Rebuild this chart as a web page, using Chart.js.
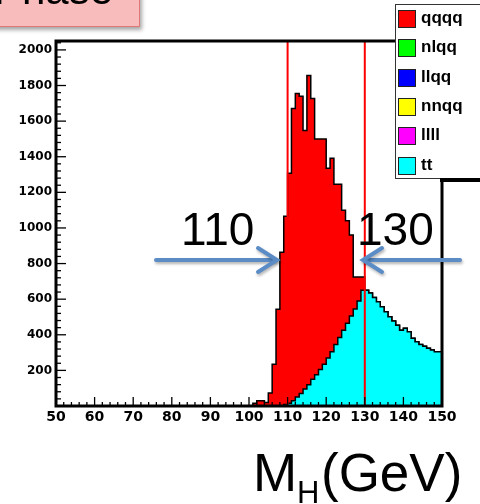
<!DOCTYPE html>
<html>
<head>
<meta charset="utf-8">
<script src="https://cdn.jsdelivr.net/npm/chart.js@4.4.1/dist/chart.umd.min.js"></script>
<style>
  html, body { margin: 0; padding: 0; background: #fff; }
  #wrap { position: relative; width: 480px; height: 504px; overflow: hidden; font-family: "Liberation Sans", Arial, sans-serif; }
  #plot { position: absolute; left: 0; top: 0; }
  .txt { position: absolute; line-height: 1; color: #000; white-space: nowrap; }
  #tag { position: absolute; left: -10px; top: -40px; width: 148px; height: 65px; background: #f9bcbc;
         border: 1.5px solid #e07878; box-shadow: 2px 3px 4px rgba(0,0,0,0.35); overflow: hidden; }
  #tag span { position: absolute; right: 26px; top: 8px; font-size: 42px; line-height: 1; }
  #legend { position: absolute; left: 395px; top: 4px; width: 100px; height: 173px; background: #fff; border: 1px solid #333; }
  .item { position: absolute; left: 2px; height: 18px; }
  .item i { position: absolute; left: 0; top: 0; width: 16px; height: 16px; border: 1px solid #222; }
  .item b { position: absolute; left: 23px; top: -1px; font-size: 17px; line-height: 1; }
  #shadow { position: absolute; left: 440px; top: 178px; width: 40px; height: 4px; background: #000; }
</style>
</head>
<body>
<div id="wrap">
  <canvas id="plot" width="480" height="504"></canvas>
  <div id="tag"><span>Phase</span></div>
  <div id="legend"></div>
  <div id="shadow"></div>
  <div class="txt" style="left:181px;top:206px;font-size:46px;">110</div>
  <div class="txt" style="left:357px;top:206px;font-size:46px;">130</div>
  <div class="txt" style="left:253px;top:446px;font-size:53px;">M</div>
  <div class="txt" style="left:297px;top:477px;font-size:31px;">H</div>
  <div class="txt" style="left:321px;top:446px;font-size:53px;">(GeV)</div>
</div>
<script>
// lower edge of each 1 GeV bin
var BIN_LOW = [
  50, 51, 52, 53, 54, 55, 56, 57, 58, 59,
  60, 61, 62, 63, 64, 65, 66, 67, 68, 69,
  70, 71, 72, 73, 74, 75, 76, 77, 78, 79,
  80, 81, 82, 83, 84, 85, 86, 87, 88, 89,
  90, 91, 92, 93, 94, 95, 96, 97, 98, 99,
  100, 101, 102, 103, 104, 105, 106, 107, 108, 109,
  110, 111, 112, 113, 114, 115, 116, 117, 118, 119,
  120, 121, 122, 123, 124, 125, 126, 127, 128, 129,
  130, 131, 132, 133, 134, 135, 136, 137, 138, 139,
  140, 141, 142, 143, 144, 145, 146, 147, 148, 149
];
var X_END = 150;

var TT = [
  0, 0, 0, 0, 0, 0, 0, 0, 0, 0,
  0, 0, 0, 0, 0, 0, 0, 0, 0, 0,
  0, 0, 0, 0, 0, 0, 0, 0, 0, 0,
  0, 0, 0, 0, 0, 0, 0, 0, 0, 0,
  0, 0, 0, 0, 0, 0, 0, 0, 0, 0,
  0, 0, 0, 0, 0, 0, 0, 0, 0, 0,
  8, 15, 30, 50, 70, 95, 120, 150, 175, 205,
  235, 270, 305, 345, 385, 425, 465, 505, 545, 590,
  650, 650, 635, 610, 585, 557, 529, 501, 478, 454,
  426, 437, 417, 381, 361, 345, 336, 325, 314, 305
];

var QQQQ = [
  0, 0, 0, 0, 0, 0, 0, 0, 0, 0,
  0, 0, 0, 0, 0, 0, 0, 0, 0, 0,
  0, 0, 0, 0, 0, 0, 0, 0, 0, 0,
  0, 0, 0, 0, 0, 0, 0, 0, 0, 0,
  0, 0, 0, 0, 0, 0, 0, 0, 0, 0,
  0, 0, 15, 30, 30, 20, 73, 235, 544, 864,
  1058, 1292, 1641, 1705, 1669, 1453, 1736, 1577, 1325, 1295,
  1265, 1065, 1086, 900, 860, 675, 575, 455, 179, 134,
  74, 0, 0, 0, 0, 0, 0, 0, 0, 0,
  0, 0, 0, 0, 0, 0, 0, 0, 0, 0
];

var LEGEND_NAMES = ['qqqq', 'nlqq', 'llqq', 'nnqq', 'llll', 'tt'];
var LEGEND_COLORS = ['#ff0000', '#00ff00', '#0000ff', '#ffff00', '#ff00ff', '#00ffff'];

var X_TICKS = [50, 60, 70, 80, 90, 100, 110, 120, 130, 140, 150];
var Y_TICKS = [200, 400, 600, 800, 1000, 1200, 1400, 1600, 1800, 2000];
var Y_MAX = 2050;
var CUTS = [110, 130];

// legend box
var legendHtml = '';
for (var i = 0; i < LEGEND_NAMES.length; i++) {
    legendHtml += '<div class="item" style="top:' + (5 + i * 29.3) + 'px">';
    legendHtml += '<i style="background:' + LEGEND_COLORS[i] + '"></i><b>' + LEGEND_NAMES[i] + '</b></div>';
}
document.getElementById('legend').innerHTML = legendHtml;

function stepPoints(values) {
    var pts = [];
    for (var i = 0; i < BIN_LOW.length; i++) {
        pts.push({ x: BIN_LOW[i], y: values[i] });
    }
    pts.push({ x: X_END, y: values[values.length - 1] });
    return pts;
}

function line(ctx, x1, y1, x2, y2) {
    ctx.beginPath();
    ctx.moveTo(x1, y1);
    ctx.lineTo(x2, y2);
    ctx.stroke();
}

function arrow(ctx, tail, tip, yy) {
    var dir = tip > tail ? 1 : -1;
    line(ctx, tail, yy, tip - dir * 2, yy);
    ctx.beginPath();
    ctx.moveTo(tip - dir * 19, yy - 12);
    ctx.lineTo(tip, yy);
    ctx.lineTo(tip - dir * 19, yy + 12);
    ctx.stroke();
}

var framePlugin = {
    id: 'frame',
    afterDatasetsDraw: function (chart) {
        var ctx = chart.ctx;
        var a = chart.chartArea;
        var x = chart.scales.x;
        var y = chart.scales.y;
        ctx.save();

        // mass window
        ctx.strokeStyle = '#ff0000';
        ctx.lineWidth = 2;
        CUTS.forEach(function (c) {
            var px = x.getPixelForValue(c);
            line(ctx, px, a.top, px, a.bottom);
        });

        // ticks inside the frame
        ctx.strokeStyle = '#000';
        ctx.lineWidth = 1.3;
        for (var v = X_TICKS[0]; v <= X_END; v += 2) {
            var px = x.getPixelForValue(v);
            var len = (v % 10 === 0) ? 9 : 4;
            line(ctx, px, a.bottom, px, a.bottom - len);
        }
        for (var w = 0; w <= Y_MAX; w += 40) {
            var py = y.getPixelForValue(w);
            var len2 = (w % 200 === 0) ? 10 : 5;
            line(ctx, a.left, py, a.left + len2, py);
        }

        // frame
        ctx.lineWidth = 3;
        ctx.strokeRect(a.left, a.top, a.right - a.left, a.bottom - a.top);

        // blue arrows
        ctx.strokeStyle = '#5b8cc6';
        ctx.lineWidth = 4;
        ctx.lineCap = 'round';
        ctx.shadowColor = 'rgba(0,0,0,0.3)';
        ctx.shadowBlur = 3;
        ctx.shadowOffsetX = 1;
        ctx.shadowOffsetY = 2;
        arrow(ctx, 156, 277, 260);
        arrow(ctx, 460, 363, 260);
        ctx.restore();
    }
};

var tickFontY = { family: 'DejaVu Sans', size: 12, weight: 'bold' };
var tickFontX = { family: 'DejaVu Sans', size: 14, weight: 'bold' };

var ctx = document.getElementById('plot').getContext('2d');
var chart = new Chart(ctx, {
    type: 'line',
    data: {
        datasets: [
            {
                label: 'tt',
                data: stepPoints(TT),
                stepped: 'after',
                borderColor: '#000',
                borderWidth: 1.5,
                backgroundColor: '#00ffff',
                fill: 'origin',
                pointRadius: 0
            },
            {
                label: 'qqqq',
                data: stepPoints(QQQQ),
                stepped: 'after',
                borderColor: '#000',
                borderWidth: 1.5,
                backgroundColor: '#ff0000',
                fill: 'origin',
                pointRadius: 0
            }
        ]
    },
    options: {
        responsive: false,
        animation: false,
        layout: { padding: { left: 0, top: 41, right: 38, bottom: 68 } },
        plugins: { legend: { display: false }, tooltip: { enabled: false } },
        scales: {
            x: {
                type: 'linear',
                min: X_TICKS[0],
                max: X_END,
                grid: { display: false, drawTicks: false },
                border: { display: false },
                ticks: {
                    font: tickFontX, color: '#000', padding: 3, maxRotation: 0, autoSkip: false,
                    callback: function (v) { return String(v); }
                },
                afterBuildTicks: function (s) { s.ticks = X_TICKS.map(function (v) { return { value: v }; }); },
                afterFit: function (s) { s.height = 30; }
            },
            y: {
                stacked: true,
                min: 0,
                max: Y_MAX,
                grid: { display: false, drawTicks: false },
                border: { display: false },
                ticks: {
                    font: tickFontY, color: '#000', padding: 4,
                    callback: function (v) { return String(v); }
                },
                afterBuildTicks: function (s) { s.ticks = Y_TICKS.map(function (v) { return { value: v }; }); },
                afterFit: function (s) { s.width = 56; }
            }
        }
    },
    plugins: [framePlugin]
});
</script>
</body>
</html>
